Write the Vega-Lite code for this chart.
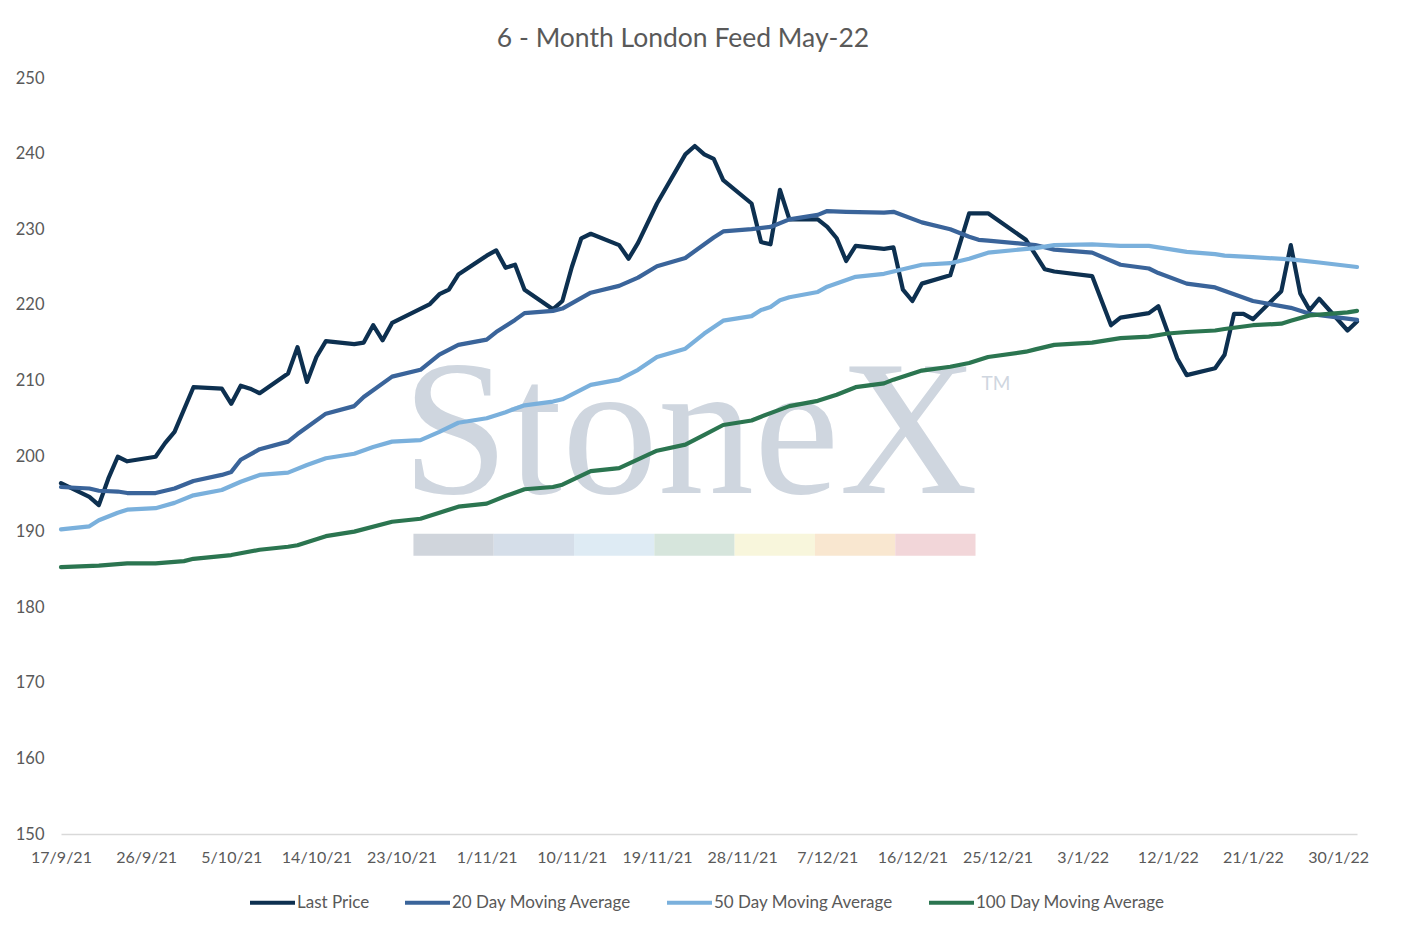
{
  "$schema": "https://vega.github.io/schema/vega-lite/v6.json",
  "width": 1296,
  "height": 756,
  "autosize": "none",
  "padding": {"left": 61, "top": 78, "right": 55, "bottom": 98},
  "background": "white",
  "title": {
    "text": "6 - Month London Feed May-22",
    "font": "Lato",
    "fontSize": 26.5,
    "fontWeight": "normal",
    "color": "#595959",
    "anchor": "middle",
    "frame": "group",
    "baseline": "alphabetic",
    "offset": -3,
    "dx": -26
  },
  "config": {
    "view": {"stroke": null},
    "font": "Lato"
  },
  "datasets": {
    "stripes": [
      {"seg": 0}, {"seg": 1}, {"seg": 2}, {"seg": 3}, {"seg": 4}, {"seg": 5}, {"seg": 6}
    ],
    "prices": [
      {"date": "2021-09-17", "series": "Last Price", "value": 196.4},
      {"date": "2021-09-20", "series": "Last Price", "value": 194.6},
      {"date": "2021-09-21", "series": "Last Price", "value": 193.5},
      {"date": "2021-09-22", "series": "Last Price", "value": 197.0},
      {"date": "2021-09-23", "series": "Last Price", "value": 199.9},
      {"date": "2021-09-24", "series": "Last Price", "value": 199.3},
      {"date": "2021-09-27", "series": "Last Price", "value": 199.9},
      {"date": "2021-09-28", "series": "Last Price", "value": 201.7},
      {"date": "2021-09-29", "series": "Last Price", "value": 203.2},
      {"date": "2021-10-01", "series": "Last Price", "value": 209.1},
      {"date": "2021-10-04", "series": "Last Price", "value": 208.9},
      {"date": "2021-10-05", "series": "Last Price", "value": 206.9},
      {"date": "2021-10-06", "series": "Last Price", "value": 209.3},
      {"date": "2021-10-07", "series": "Last Price", "value": 208.9},
      {"date": "2021-10-08", "series": "Last Price", "value": 208.3},
      {"date": "2021-10-11", "series": "Last Price", "value": 210.9},
      {"date": "2021-10-12", "series": "Last Price", "value": 214.4},
      {"date": "2021-10-13", "series": "Last Price", "value": 209.8},
      {"date": "2021-10-14", "series": "Last Price", "value": 213.1},
      {"date": "2021-10-15", "series": "Last Price", "value": 215.2},
      {"date": "2021-10-18", "series": "Last Price", "value": 214.8},
      {"date": "2021-10-19", "series": "Last Price", "value": 215.0},
      {"date": "2021-10-20", "series": "Last Price", "value": 217.3},
      {"date": "2021-10-21", "series": "Last Price", "value": 215.3},
      {"date": "2021-10-22", "series": "Last Price", "value": 217.6},
      {"date": "2021-10-26", "series": "Last Price", "value": 220.1},
      {"date": "2021-10-27", "series": "Last Price", "value": 221.4},
      {"date": "2021-10-28", "series": "Last Price", "value": 222.0},
      {"date": "2021-10-29", "series": "Last Price", "value": 224.0},
      {"date": "2021-11-01", "series": "Last Price", "value": 226.5},
      {"date": "2021-11-02", "series": "Last Price", "value": 227.2},
      {"date": "2021-11-03", "series": "Last Price", "value": 224.9},
      {"date": "2021-11-04", "series": "Last Price", "value": 225.3},
      {"date": "2021-11-05", "series": "Last Price", "value": 222.0},
      {"date": "2021-11-08", "series": "Last Price", "value": 219.4},
      {"date": "2021-11-09", "series": "Last Price", "value": 220.5},
      {"date": "2021-11-10", "series": "Last Price", "value": 225.0},
      {"date": "2021-11-11", "series": "Last Price", "value": 228.8},
      {"date": "2021-11-12", "series": "Last Price", "value": 229.4},
      {"date": "2021-11-15", "series": "Last Price", "value": 227.9},
      {"date": "2021-11-16", "series": "Last Price", "value": 226.1},
      {"date": "2021-11-17", "series": "Last Price", "value": 228.2},
      {"date": "2021-11-19", "series": "Last Price", "value": 233.4},
      {"date": "2021-11-22", "series": "Last Price", "value": 239.9},
      {"date": "2021-11-23", "series": "Last Price", "value": 241.0},
      {"date": "2021-11-24", "series": "Last Price", "value": 239.9},
      {"date": "2021-11-25", "series": "Last Price", "value": 239.3},
      {"date": "2021-11-26", "series": "Last Price", "value": 236.5},
      {"date": "2021-11-29", "series": "Last Price", "value": 233.4},
      {"date": "2021-11-30", "series": "Last Price", "value": 228.3},
      {"date": "2021-12-01", "series": "Last Price", "value": 228.0},
      {"date": "2021-12-02", "series": "Last Price", "value": 235.2},
      {"date": "2021-12-03", "series": "Last Price", "value": 231.3},
      {"date": "2021-12-06", "series": "Last Price", "value": 231.3},
      {"date": "2021-12-07", "series": "Last Price", "value": 230.3},
      {"date": "2021-12-08", "series": "Last Price", "value": 228.8},
      {"date": "2021-12-09", "series": "Last Price", "value": 225.8},
      {"date": "2021-12-10", "series": "Last Price", "value": 227.8},
      {"date": "2021-12-13", "series": "Last Price", "value": 227.4},
      {"date": "2021-12-14", "series": "Last Price", "value": 227.6},
      {"date": "2021-12-15", "series": "Last Price", "value": 222.0},
      {"date": "2021-12-16", "series": "Last Price", "value": 220.5},
      {"date": "2021-12-17", "series": "Last Price", "value": 222.8},
      {"date": "2021-12-20", "series": "Last Price", "value": 223.9},
      {"date": "2021-12-22", "series": "Last Price", "value": 232.1},
      {"date": "2021-12-24", "series": "Last Price", "value": 232.1},
      {"date": "2021-12-28", "series": "Last Price", "value": 228.6},
      {"date": "2021-12-30", "series": "Last Price", "value": 224.7},
      {"date": "2021-12-31", "series": "Last Price", "value": 224.4},
      {"date": "2022-01-04", "series": "Last Price", "value": 223.8},
      {"date": "2022-01-06", "series": "Last Price", "value": 217.3},
      {"date": "2022-01-07", "series": "Last Price", "value": 218.3},
      {"date": "2022-01-10", "series": "Last Price", "value": 218.9},
      {"date": "2022-01-11", "series": "Last Price", "value": 219.8},
      {"date": "2022-01-13", "series": "Last Price", "value": 212.9},
      {"date": "2022-01-14", "series": "Last Price", "value": 210.7},
      {"date": "2022-01-17", "series": "Last Price", "value": 211.6},
      {"date": "2022-01-18", "series": "Last Price", "value": 213.4},
      {"date": "2022-01-19", "series": "Last Price", "value": 218.8},
      {"date": "2022-01-20", "series": "Last Price", "value": 218.8},
      {"date": "2022-01-21", "series": "Last Price", "value": 218.1},
      {"date": "2022-01-24", "series": "Last Price", "value": 221.8},
      {"date": "2022-01-25", "series": "Last Price", "value": 227.9},
      {"date": "2022-01-26", "series": "Last Price", "value": 221.5},
      {"date": "2022-01-27", "series": "Last Price", "value": 219.3},
      {"date": "2022-01-28", "series": "Last Price", "value": 220.8},
      {"date": "2022-01-31", "series": "Last Price", "value": 216.6},
      {"date": "2022-02-01", "series": "Last Price", "value": 217.8},

      {"date": "2021-09-17", "series": "20 Day Moving Average", "value": 195.9},
      {"date": "2021-09-20", "series": "20 Day Moving Average", "value": 195.7},
      {"date": "2021-09-21", "series": "20 Day Moving Average", "value": 195.4},
      {"date": "2021-09-23", "series": "20 Day Moving Average", "value": 195.3},
      {"date": "2021-09-24", "series": "20 Day Moving Average", "value": 195.1},
      {"date": "2021-09-27", "series": "20 Day Moving Average", "value": 195.1},
      {"date": "2021-09-29", "series": "20 Day Moving Average", "value": 195.7},
      {"date": "2021-10-01", "series": "20 Day Moving Average", "value": 196.7},
      {"date": "2021-10-04", "series": "20 Day Moving Average", "value": 197.5},
      {"date": "2021-10-05", "series": "20 Day Moving Average", "value": 197.9},
      {"date": "2021-10-06", "series": "20 Day Moving Average", "value": 199.5},
      {"date": "2021-10-08", "series": "20 Day Moving Average", "value": 200.9},
      {"date": "2021-10-11", "series": "20 Day Moving Average", "value": 201.9},
      {"date": "2021-10-12", "series": "20 Day Moving Average", "value": 202.9},
      {"date": "2021-10-13", "series": "20 Day Moving Average", "value": 203.8},
      {"date": "2021-10-15", "series": "20 Day Moving Average", "value": 205.6},
      {"date": "2021-10-18", "series": "20 Day Moving Average", "value": 206.6},
      {"date": "2021-10-19", "series": "20 Day Moving Average", "value": 207.8},
      {"date": "2021-10-22", "series": "20 Day Moving Average", "value": 210.5},
      {"date": "2021-10-25", "series": "20 Day Moving Average", "value": 211.4},
      {"date": "2021-10-27", "series": "20 Day Moving Average", "value": 213.4},
      {"date": "2021-10-29", "series": "20 Day Moving Average", "value": 214.7},
      {"date": "2021-11-01", "series": "20 Day Moving Average", "value": 215.4},
      {"date": "2021-11-02", "series": "20 Day Moving Average", "value": 216.4},
      {"date": "2021-11-04", "series": "20 Day Moving Average", "value": 218.0},
      {"date": "2021-11-05", "series": "20 Day Moving Average", "value": 218.9},
      {"date": "2021-11-08", "series": "20 Day Moving Average", "value": 219.2},
      {"date": "2021-11-09", "series": "20 Day Moving Average", "value": 219.5},
      {"date": "2021-11-12", "series": "20 Day Moving Average", "value": 221.6},
      {"date": "2021-11-15", "series": "20 Day Moving Average", "value": 222.5},
      {"date": "2021-11-17", "series": "20 Day Moving Average", "value": 223.6},
      {"date": "2021-11-19", "series": "20 Day Moving Average", "value": 225.1},
      {"date": "2021-11-22", "series": "20 Day Moving Average", "value": 226.2},
      {"date": "2021-11-25", "series": "20 Day Moving Average", "value": 228.9},
      {"date": "2021-11-26", "series": "20 Day Moving Average", "value": 229.7},
      {"date": "2021-11-29", "series": "20 Day Moving Average", "value": 230.0},
      {"date": "2021-12-01", "series": "20 Day Moving Average", "value": 230.3},
      {"date": "2021-12-03", "series": "20 Day Moving Average", "value": 231.3},
      {"date": "2021-12-06", "series": "20 Day Moving Average", "value": 231.9},
      {"date": "2021-12-07", "series": "20 Day Moving Average", "value": 232.4},
      {"date": "2021-12-09", "series": "20 Day Moving Average", "value": 232.3},
      {"date": "2021-12-13", "series": "20 Day Moving Average", "value": 232.2},
      {"date": "2021-12-14", "series": "20 Day Moving Average", "value": 232.3},
      {"date": "2021-12-17", "series": "20 Day Moving Average", "value": 230.9},
      {"date": "2021-12-20", "series": "20 Day Moving Average", "value": 230.0},
      {"date": "2021-12-22", "series": "20 Day Moving Average", "value": 229.0},
      {"date": "2021-12-23", "series": "20 Day Moving Average", "value": 228.6},
      {"date": "2021-12-24", "series": "20 Day Moving Average", "value": 228.5},
      {"date": "2021-12-29", "series": "20 Day Moving Average", "value": 227.9},
      {"date": "2021-12-31", "series": "20 Day Moving Average", "value": 227.3},
      {"date": "2022-01-04", "series": "20 Day Moving Average", "value": 226.9},
      {"date": "2022-01-07", "series": "20 Day Moving Average", "value": 225.3},
      {"date": "2022-01-10", "series": "20 Day Moving Average", "value": 224.8},
      {"date": "2022-01-11", "series": "20 Day Moving Average", "value": 224.2},
      {"date": "2022-01-14", "series": "20 Day Moving Average", "value": 222.8},
      {"date": "2022-01-17", "series": "20 Day Moving Average", "value": 222.3},
      {"date": "2022-01-19", "series": "20 Day Moving Average", "value": 221.4},
      {"date": "2022-01-21", "series": "20 Day Moving Average", "value": 220.5},
      {"date": "2022-01-25", "series": "20 Day Moving Average", "value": 219.6},
      {"date": "2022-01-27", "series": "20 Day Moving Average", "value": 218.8},
      {"date": "2022-02-01", "series": "20 Day Moving Average", "value": 218.0},

      {"date": "2021-09-17", "series": "50 Day Moving Average", "value": 190.3},
      {"date": "2021-09-20", "series": "50 Day Moving Average", "value": 190.7},
      {"date": "2021-09-21", "series": "50 Day Moving Average", "value": 191.5},
      {"date": "2021-09-23", "series": "50 Day Moving Average", "value": 192.5},
      {"date": "2021-09-24", "series": "50 Day Moving Average", "value": 192.9},
      {"date": "2021-09-27", "series": "50 Day Moving Average", "value": 193.1},
      {"date": "2021-09-29", "series": "50 Day Moving Average", "value": 193.8},
      {"date": "2021-10-01", "series": "50 Day Moving Average", "value": 194.8},
      {"date": "2021-10-04", "series": "50 Day Moving Average", "value": 195.5},
      {"date": "2021-10-06", "series": "50 Day Moving Average", "value": 196.6},
      {"date": "2021-10-08", "series": "50 Day Moving Average", "value": 197.5},
      {"date": "2021-10-11", "series": "50 Day Moving Average", "value": 197.8},
      {"date": "2021-10-13", "series": "50 Day Moving Average", "value": 198.8},
      {"date": "2021-10-15", "series": "50 Day Moving Average", "value": 199.7},
      {"date": "2021-10-18", "series": "50 Day Moving Average", "value": 200.3},
      {"date": "2021-10-20", "series": "50 Day Moving Average", "value": 201.2},
      {"date": "2021-10-22", "series": "50 Day Moving Average", "value": 201.9},
      {"date": "2021-10-25", "series": "50 Day Moving Average", "value": 202.1},
      {"date": "2021-10-27", "series": "50 Day Moving Average", "value": 203.2},
      {"date": "2021-10-29", "series": "50 Day Moving Average", "value": 204.4},
      {"date": "2021-11-01", "series": "50 Day Moving Average", "value": 205.0},
      {"date": "2021-11-03", "series": "50 Day Moving Average", "value": 205.8},
      {"date": "2021-11-05", "series": "50 Day Moving Average", "value": 206.7},
      {"date": "2021-11-08", "series": "50 Day Moving Average", "value": 207.2},
      {"date": "2021-11-09", "series": "50 Day Moving Average", "value": 207.5},
      {"date": "2021-11-12", "series": "50 Day Moving Average", "value": 209.4},
      {"date": "2021-11-15", "series": "50 Day Moving Average", "value": 210.1},
      {"date": "2021-11-17", "series": "50 Day Moving Average", "value": 211.4},
      {"date": "2021-11-19", "series": "50 Day Moving Average", "value": 213.1},
      {"date": "2021-11-22", "series": "50 Day Moving Average", "value": 214.2},
      {"date": "2021-11-24", "series": "50 Day Moving Average", "value": 216.2},
      {"date": "2021-11-26", "series": "50 Day Moving Average", "value": 217.9},
      {"date": "2021-11-29", "series": "50 Day Moving Average", "value": 218.5},
      {"date": "2021-11-30", "series": "50 Day Moving Average", "value": 219.3},
      {"date": "2021-12-01", "series": "50 Day Moving Average", "value": 219.7},
      {"date": "2021-12-02", "series": "50 Day Moving Average", "value": 220.6},
      {"date": "2021-12-03", "series": "50 Day Moving Average", "value": 221.0},
      {"date": "2021-12-06", "series": "50 Day Moving Average", "value": 221.7},
      {"date": "2021-12-07", "series": "50 Day Moving Average", "value": 222.4},
      {"date": "2021-12-10", "series": "50 Day Moving Average", "value": 223.7},
      {"date": "2021-12-13", "series": "50 Day Moving Average", "value": 224.1},
      {"date": "2021-12-15", "series": "50 Day Moving Average", "value": 224.7},
      {"date": "2021-12-17", "series": "50 Day Moving Average", "value": 225.3},
      {"date": "2021-12-20", "series": "50 Day Moving Average", "value": 225.5},
      {"date": "2021-12-22", "series": "50 Day Moving Average", "value": 226.1},
      {"date": "2021-12-24", "series": "50 Day Moving Average", "value": 226.9},
      {"date": "2021-12-29", "series": "50 Day Moving Average", "value": 227.5},
      {"date": "2021-12-31", "series": "50 Day Moving Average", "value": 227.9},
      {"date": "2022-01-04", "series": "50 Day Moving Average", "value": 228.0},
      {"date": "2022-01-07", "series": "50 Day Moving Average", "value": 227.8},
      {"date": "2022-01-10", "series": "50 Day Moving Average", "value": 227.8},
      {"date": "2022-01-12", "series": "50 Day Moving Average", "value": 227.4},
      {"date": "2022-01-14", "series": "50 Day Moving Average", "value": 227.0},
      {"date": "2022-01-17", "series": "50 Day Moving Average", "value": 226.7},
      {"date": "2022-01-18", "series": "50 Day Moving Average", "value": 226.5},
      {"date": "2022-01-21", "series": "50 Day Moving Average", "value": 226.3},
      {"date": "2022-01-25", "series": "50 Day Moving Average", "value": 226.0},
      {"date": "2022-01-28", "series": "50 Day Moving Average", "value": 225.6},
      {"date": "2022-02-01", "series": "50 Day Moving Average", "value": 225.0},

      {"date": "2021-09-17", "series": "100 Day Moving Average", "value": 185.3},
      {"date": "2021-09-21", "series": "100 Day Moving Average", "value": 185.5},
      {"date": "2021-09-24", "series": "100 Day Moving Average", "value": 185.8},
      {"date": "2021-09-27", "series": "100 Day Moving Average", "value": 185.8},
      {"date": "2021-09-30", "series": "100 Day Moving Average", "value": 186.1},
      {"date": "2021-10-01", "series": "100 Day Moving Average", "value": 186.4},
      {"date": "2021-10-05", "series": "100 Day Moving Average", "value": 186.9},
      {"date": "2021-10-08", "series": "100 Day Moving Average", "value": 187.6},
      {"date": "2021-10-11", "series": "100 Day Moving Average", "value": 188.0},
      {"date": "2021-10-12", "series": "100 Day Moving Average", "value": 188.2},
      {"date": "2021-10-15", "series": "100 Day Moving Average", "value": 189.4},
      {"date": "2021-10-18", "series": "100 Day Moving Average", "value": 190.0},
      {"date": "2021-10-22", "series": "100 Day Moving Average", "value": 191.3},
      {"date": "2021-10-25", "series": "100 Day Moving Average", "value": 191.7},
      {"date": "2021-10-27", "series": "100 Day Moving Average", "value": 192.5},
      {"date": "2021-10-29", "series": "100 Day Moving Average", "value": 193.3},
      {"date": "2021-11-01", "series": "100 Day Moving Average", "value": 193.7},
      {"date": "2021-11-03", "series": "100 Day Moving Average", "value": 194.7},
      {"date": "2021-11-05", "series": "100 Day Moving Average", "value": 195.6},
      {"date": "2021-11-08", "series": "100 Day Moving Average", "value": 195.9},
      {"date": "2021-11-09", "series": "100 Day Moving Average", "value": 196.2},
      {"date": "2021-11-12", "series": "100 Day Moving Average", "value": 198.0},
      {"date": "2021-11-15", "series": "100 Day Moving Average", "value": 198.4},
      {"date": "2021-11-19", "series": "100 Day Moving Average", "value": 200.7},
      {"date": "2021-11-22", "series": "100 Day Moving Average", "value": 201.5},
      {"date": "2021-11-24", "series": "100 Day Moving Average", "value": 202.8},
      {"date": "2021-11-26", "series": "100 Day Moving Average", "value": 204.1},
      {"date": "2021-11-29", "series": "100 Day Moving Average", "value": 204.7},
      {"date": "2021-11-30", "series": "100 Day Moving Average", "value": 205.2},
      {"date": "2021-12-03", "series": "100 Day Moving Average", "value": 206.6},
      {"date": "2021-12-06", "series": "100 Day Moving Average", "value": 207.3},
      {"date": "2021-12-08", "series": "100 Day Moving Average", "value": 208.1},
      {"date": "2021-12-10", "series": "100 Day Moving Average", "value": 209.1},
      {"date": "2021-12-13", "series": "100 Day Moving Average", "value": 209.6},
      {"date": "2021-12-14", "series": "100 Day Moving Average", "value": 210.1},
      {"date": "2021-12-17", "series": "100 Day Moving Average", "value": 211.3},
      {"date": "2021-12-20", "series": "100 Day Moving Average", "value": 211.8},
      {"date": "2021-12-22", "series": "100 Day Moving Average", "value": 212.3},
      {"date": "2021-12-24", "series": "100 Day Moving Average", "value": 213.1},
      {"date": "2021-12-28", "series": "100 Day Moving Average", "value": 213.8},
      {"date": "2021-12-29", "series": "100 Day Moving Average", "value": 214.1},
      {"date": "2021-12-31", "series": "100 Day Moving Average", "value": 214.7},
      {"date": "2022-01-04", "series": "100 Day Moving Average", "value": 215.0},
      {"date": "2022-01-07", "series": "100 Day Moving Average", "value": 215.6},
      {"date": "2022-01-10", "series": "100 Day Moving Average", "value": 215.8},
      {"date": "2022-01-12", "series": "100 Day Moving Average", "value": 216.2},
      {"date": "2022-01-14", "series": "100 Day Moving Average", "value": 216.4},
      {"date": "2022-01-17", "series": "100 Day Moving Average", "value": 216.6},
      {"date": "2022-01-18", "series": "100 Day Moving Average", "value": 216.8},
      {"date": "2022-01-21", "series": "100 Day Moving Average", "value": 217.3},
      {"date": "2022-01-24", "series": "100 Day Moving Average", "value": 217.5},
      {"date": "2022-01-25", "series": "100 Day Moving Average", "value": 217.9},
      {"date": "2022-01-27", "series": "100 Day Moving Average", "value": 218.6},
      {"date": "2022-01-31", "series": "100 Day Moving Average", "value": 219.0},
      {"date": "2022-02-01", "series": "100 Day Moving Average", "value": 219.2}
    ]
  },
  "layer": [
    {
      "layer": [
        {
          "data": {"name": "stripes"},
          "mark": {"type": "rect"},
          "encoding": {
            "x": {
              "field": "seg",
              "type": "quantitative",
              "bin": {"binned": true, "step": 1},
              "axis": null,
              "scale": {"domain": [-4.383, 11.757], "nice": false, "zero": false}
            },
            "y": {"datum": 189.7, "type": "quantitative"},
            "y2": {"datum": 186.8},
            "color": {
              "field": "seg",
              "type": "ordinal",
              "legend": null,
              "scale": {"range": ["#d0d5dc", "#d5dee9", "#deebf4", "#d6e5dc", "#f8f6dc", "#f9e7d0", "#f2d6d9"]}
            }
          }
        },
        {
          "data": {"values": [{"label": "StoneX"}]},
          "mark": {
            "type": "text",
            "font": "Liberation Serif",
            "fontSize": 192,
            "color": "#cfd6df",
            "align": "center",
            "baseline": "alphabetic"
          },
          "encoding": {
            "x": {"datum": 3.45, "type": "quantitative"},
            "y": {"datum": 195.1, "type": "quantitative"},
            "text": {"field": "label"}
          }
        },
        {
          "data": {"values": [{"label": "TM"}]},
          "mark": {
            "type": "text",
            "font": "Lato",
            "fontSize": 19,
            "color": "#cfd6df",
            "align": "center",
            "baseline": "alphabetic"
          },
          "encoding": {
            "x": {"datum": 7.261, "type": "quantitative"},
            "y": {"datum": 208.7, "type": "quantitative"},
            "text": {"field": "label"}
          }
        }
      ]
    },
    {
      "data": {"name": "prices"},
      "mark": {"type": "line", "strokeWidth": 4.2, "strokeCap": "round", "strokeJoin": "round"},
      "encoding": {
        "x": {
          "field": "date",
          "type": "temporal",
          "title": null,
          "scale": {
            "type": "utc",
            "nice": false,
            "domain": [
              {"year": 2021, "month": 9, "date": 17, "utc": true},
              {"year": 2022, "month": 2, "date": 1, "utc": true}
            ]
          },
          "axis": {
            "orient": "bottom",
            "values": [
              {"year": 2021, "month": 9, "date": 17, "utc": true},
              {"year": 2021, "month": 9, "date": 26, "utc": true},
              {"year": 2021, "month": 10, "date": 5, "utc": true},
              {"year": 2021, "month": 10, "date": 14, "utc": true},
              {"year": 2021, "month": 10, "date": 23, "utc": true},
              {"year": 2021, "month": 11, "date": 1, "utc": true},
              {"year": 2021, "month": 11, "date": 10, "utc": true},
              {"year": 2021, "month": 11, "date": 19, "utc": true},
              {"year": 2021, "month": 11, "date": 28, "utc": true},
              {"year": 2021, "month": 12, "date": 7, "utc": true},
              {"year": 2021, "month": 12, "date": 16, "utc": true},
              {"year": 2021, "month": 12, "date": 25, "utc": true},
              {"year": 2022, "month": 1, "date": 3, "utc": true},
              {"year": 2022, "month": 1, "date": 12, "utc": true},
              {"year": 2022, "month": 1, "date": 21, "utc": true},
              {"year": 2022, "month": 1, "date": 30, "utc": true}
            ],
            "labelExpr": "utcFormat(datum.value, '%-d/%-m/%y')",
            "grid": false,
            "ticks": false,
            "domainColor": "#d9d9d9",
            "domainWidth": 1.5,
            "labelFont": "Lato",
            "labelFontSize": 16,
            "labelColor": "#595959",
            "labelPadding": 15,
            "labelOverlap": false,
            "labelFlush": false
          }
        },
        "y": {
          "field": "value",
          "type": "quantitative",
          "title": null,
          "scale": {"domain": [150, 250], "nice": false, "zero": false},
          "axis": {
            "values": [150, 160, 170, 180, 190, 200, 210, 220, 230, 240, 250],
            "grid": false,
            "ticks": false,
            "domain": false,
            "labelFont": "Lato",
            "labelFontSize": 16.5,
            "labelColor": "#595959",
            "labelPadding": 17
          }
        },
        "color": {
          "field": "series",
          "type": "nominal",
          "sort": null,
          "scale": {
            "domain": ["Last Price", "20 Day Moving Average", "50 Day Moving Average", "100 Day Moving Average"],
            "range": ["#0d3050", "#3a649a", "#7ab0dc", "#2b7550"]
          },
          "legend": {
            "title": null,
            "orient": "none",
            "direction": "horizontal",
            "legendX": 187,
            "legendY": 800,
            "symbolType": "stroke",
            "symbolSize": 2025,
            "symbolStrokeWidth": 4,
            "labelFont": "Lato",
            "labelFontSize": 17,
            "labelColor": "#595959",
            "labelLimit": 0,
            "labelOffset": 0,
            "columnPadding": 27
          }
        }
      }
    }
  ],
  "resolve": {"scale": {"x": "independent", "color": "independent"}}
}
